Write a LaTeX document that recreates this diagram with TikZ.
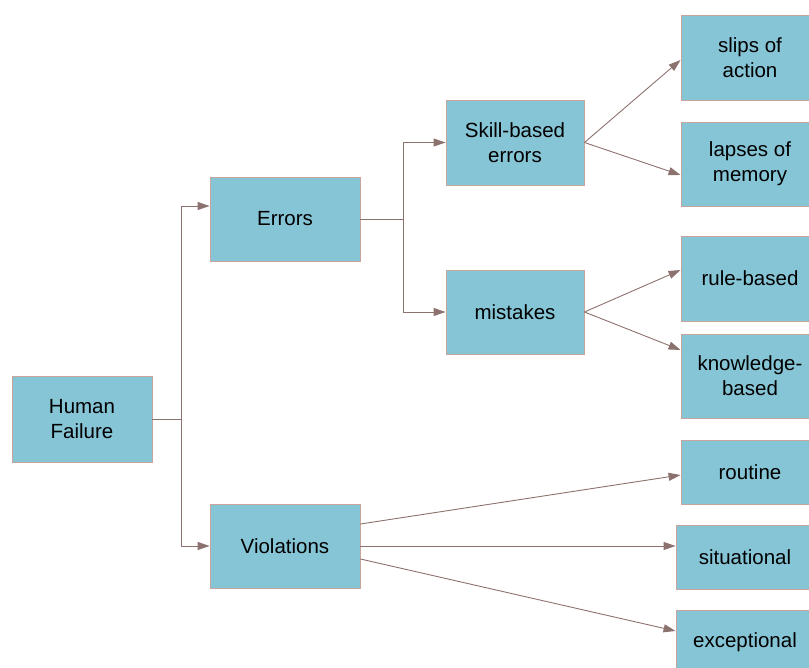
\documentclass[tikz,border=0pt]{standalone}
\usepackage{fontspec}
\setmainfont{Liberation Sans}
\usetikzlibrary{arrows.meta}
\definecolor{boxfill}{RGB}{134,197,214}
\definecolor{boxline}{RGB}{200,164,154}
\definecolor{conncol}{RGB}{140,114,110}
\tikzset{
  box/.style={draw=boxline, fill=boxfill, line width=0.9pt, rectangle, align=center,
    inner sep=0pt, font=\fontsize{20.5}{25}\selectfont, text=black},
  conn/.style={draw=conncol, line width=0.9pt},
  arr/.style={conn, -{Triangle[length=12pt,width=8pt]}},
}
\begin{document}
\begin{tikzpicture}[x=1pt,y=-1pt]
\useasboundingbox (0,0) rectangle (809,668);
\clip (0,0) rectangle (809,668);
\node[box, minimum width=140pt, minimum height=86pt] (hf) at (82,419) {Human\\Failure};
\node[box, minimum width=150pt, minimum height=84pt] (err) at (285,219) {Errors};
\node[box, minimum width=150pt, minimum height=84pt] (vio) at (285,546) {Violations};
\node[box, minimum width=138pt, minimum height=85pt] (skill) at (515,142.5) {Skill-based\\errors};
\node[box, minimum width=138pt, minimum height=84pt] (mist) at (515,312) {mistakes};
\node[box, minimum width=138pt, minimum height=85pt] (slips) at (750,57.5) {slips of\\action};
\node[box, minimum width=138pt, minimum height=84pt] (lapses) at (750,164) {lapses of\\memory};
\node[box, minimum width=138pt, minimum height=85pt] (rule) at (750,278.5) {rule-based};
\node[box, minimum width=138pt, minimum height=84pt] (know) at (750,376) {knowledge-\\based};
\node[box, minimum width=138pt, minimum height=64pt] (routine) at (750,472) {routine};
\node[box, minimum width=138pt, minimum height=64pt] (sit) at (745,557) {situational};
\node[box, minimum width=138pt, minimum height=64pt] (exc) at (745,642) {exceptional};

\draw[conn] (hf.east) -- ++(29,0) coordinate (j1);
\draw[arr] (j1) |- ([yshift=13pt]err.west);
\draw[arr] (j1) |- (vio.west);

\draw[conn] (err.east) -- ++(43,0) coordinate (j2);
\draw[arr] (j2) |- (skill.west);
\draw[arr] (j2) |- (mist.west);

\draw[arr] (skill.east) -- ([yshift=-2.5pt]slips.west);
\draw[arr] (skill.east) -- ([yshift=-11pt]lapses.west);
\draw[arr] (mist.east) -- ([yshift=8.5pt]rule.west);
\draw[arr] (mist.east) -- ([yshift=26pt]know.west);

\draw[arr] ([yshift=22pt]vio.east) -- ([yshift=-3pt]routine.west);
\draw[arr] (vio.east) -- (sit.west |- vio.east);
\draw[arr] ([yshift=-13pt]vio.east) -- ([yshift=11pt]exc.west);
\end{tikzpicture}
\end{document}
